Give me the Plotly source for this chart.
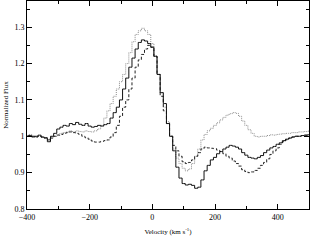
import plotly.graph_objects as go

velocity = list(range(-400, 501, 10))

flux_solid = [
    1.0, 1.002, 0.998, 1.0, 1.003, 0.998, 0.996, 0.985, 1.0, 1.008,
    1.02, 1.025, 1.03, 1.028, 1.035, 1.032, 1.038, 1.033, 1.03, 1.035,
    1.028, 1.025, 1.027, 1.03, 1.028, 1.032, 1.035, 1.05, 1.065, 1.08,
    1.1, 1.13, 1.16, 1.19, 1.215, 1.24, 1.258, 1.265, 1.262, 1.255,
    1.245, 1.22, 1.17, 1.12, 1.09, 1.035, 1.0, 0.96, 0.915, 0.885,
    0.87, 0.866, 0.868, 0.865, 0.857, 0.86, 0.88, 0.905, 0.92, 0.935,
    0.942, 0.952, 0.958, 0.965, 0.97, 0.975, 0.973, 0.97, 0.965, 0.955,
    0.948, 0.942, 0.94, 0.938, 0.942, 0.947, 0.955, 0.962, 0.968, 0.972,
    0.978, 0.982, 0.988, 0.992, 0.995, 0.998, 1.0, 1.0, 1.002, 1.003,
    1.004,
]

flux_dashed = [
    1.0, 1.0, 1.0, 0.998, 1.0, 0.998, 0.995, 0.99, 0.995, 1.0,
    1.003, 1.005, 1.008, 1.01, 1.012, 1.01, 1.008, 1.005, 1.0, 0.996,
    0.992, 0.987, 0.984, 0.984, 0.986, 0.988, 0.99, 0.998, 1.01, 1.03,
    1.055, 1.08, 1.1, 1.13, 1.16, 1.19, 1.21, 1.225, 1.24, 1.25,
    1.245, 1.22, 1.17, 1.11, 1.07, 1.035, 1.0, 0.975, 0.96, 0.945,
    0.93, 0.925, 0.928, 0.935, 0.945, 0.955, 0.965, 0.97, 0.968, 0.967,
    0.966, 0.962, 0.958, 0.952, 0.945, 0.94, 0.932, 0.925, 0.918, 0.908,
    0.903, 0.9, 0.902, 0.906, 0.912, 0.92, 0.928, 0.938, 0.95, 0.96,
    0.968, 0.978, 0.985, 0.99, 0.995, 0.998, 1.0, 1.0, 1.002, 1.003,
    1.004,
]

flux_dotted = [
    1.0, 1.005, 1.0, 0.998, 1.0, 0.997, 0.995, 0.992, 0.998, 1.0,
    1.005, 1.008, 1.01, 1.012, 1.015, 1.012, 1.015, 1.013, 1.012, 1.015,
    1.013, 1.012, 1.015, 1.02, 1.03, 1.05, 1.07, 1.09, 1.11, 1.13,
    1.15, 1.17, 1.2, 1.23, 1.26, 1.28, 1.29, 1.297, 1.29, 1.28,
    1.255, 1.22, 1.17, 1.12, 1.08, 1.04, 1.0, 0.965, 0.94, 0.925,
    0.912, 0.905, 0.91, 0.925, 0.945, 0.965, 0.99, 1.005, 1.015, 1.022,
    1.03, 1.037, 1.045, 1.052, 1.058, 1.062, 1.065, 1.063, 1.055, 1.042,
    1.03, 1.018, 1.008, 1.0, 0.998, 1.0, 1.0, 1.002, 1.004, 1.003,
    1.005, 1.006, 1.007, 1.008, 1.008, 1.01, 1.01, 1.012, 1.012, 1.013,
    1.014,
]

x_tickvals = [-400, -200, 0, 200, 400]
y_tickvals = [0.8, 0.9, 1.0, 1.1, 1.2, 1.3]
y_ticktext = ["0.8", "0.9", "1", "1.1", "1.2", "1.3"]

fig = go.Figure()
fig.add_trace(go.Scatter(x=velocity, y=flux_dotted, mode="lines",
                         line=dict(color="#8c8c8c", width=1, dash="1px,1px", shape="hvh")))
fig.add_trace(go.Scatter(x=velocity, y=flux_dashed, mode="lines",
                         line=dict(color="#222222", width=1, dash="3px,2px", shape="hvh")))
fig.add_trace(go.Scatter(x=velocity, y=flux_solid, mode="lines",
                         line=dict(color="#111111", width=1, shape="hvh")))

font = dict(family="Liberation Serif, Times New Roman, serif", size=8, color="#000")

fig.update_layout(
    width=310, height=240,
    margin=dict(l=27, r=1, t=1, b=31),
    paper_bgcolor="white", plot_bgcolor="white",
    showlegend=False,
    font=font,
    xaxis=dict(
        range=[-400, 500], tickvals=x_tickvals, ticks="inside", ticklen=5,
        tickwidth=1, tickcolor="#000", showline=True, linecolor="#000",
        linewidth=1, mirror="allticks", showgrid=False, zeroline=False,
        minor=dict(dtick=100, ticks="inside", ticklen=3, tickcolor="#000", showgrid=False),
        title=dict(text="Velocity (km s<sup>-1</sup>)", font=dict(size=7), standoff=8),
        tickfont=dict(size=8),
    ),
    yaxis=dict(
        range=[0.8, 1.372], tickvals=y_tickvals, ticktext=y_ticktext,
        ticks="inside", ticklen=5, tickwidth=1, tickcolor="#000",
        showline=True, linecolor="#000", linewidth=1, mirror="allticks",
        showgrid=False, zeroline=False,
        minor=dict(dtick=0.05, tick0=0.8, ticks="inside", ticklen=3, tickcolor="#000", showgrid=False),
        title=dict(text="Normalized Flux", font=dict(size=7), standoff=4),
        tickfont=dict(size=8),
    ),
)

fig.write_html(
    "out.html",
    config={"displayModeBar": False},
    post_script="document.body.style.margin='0';document.body.style.overflow='hidden';",
)
